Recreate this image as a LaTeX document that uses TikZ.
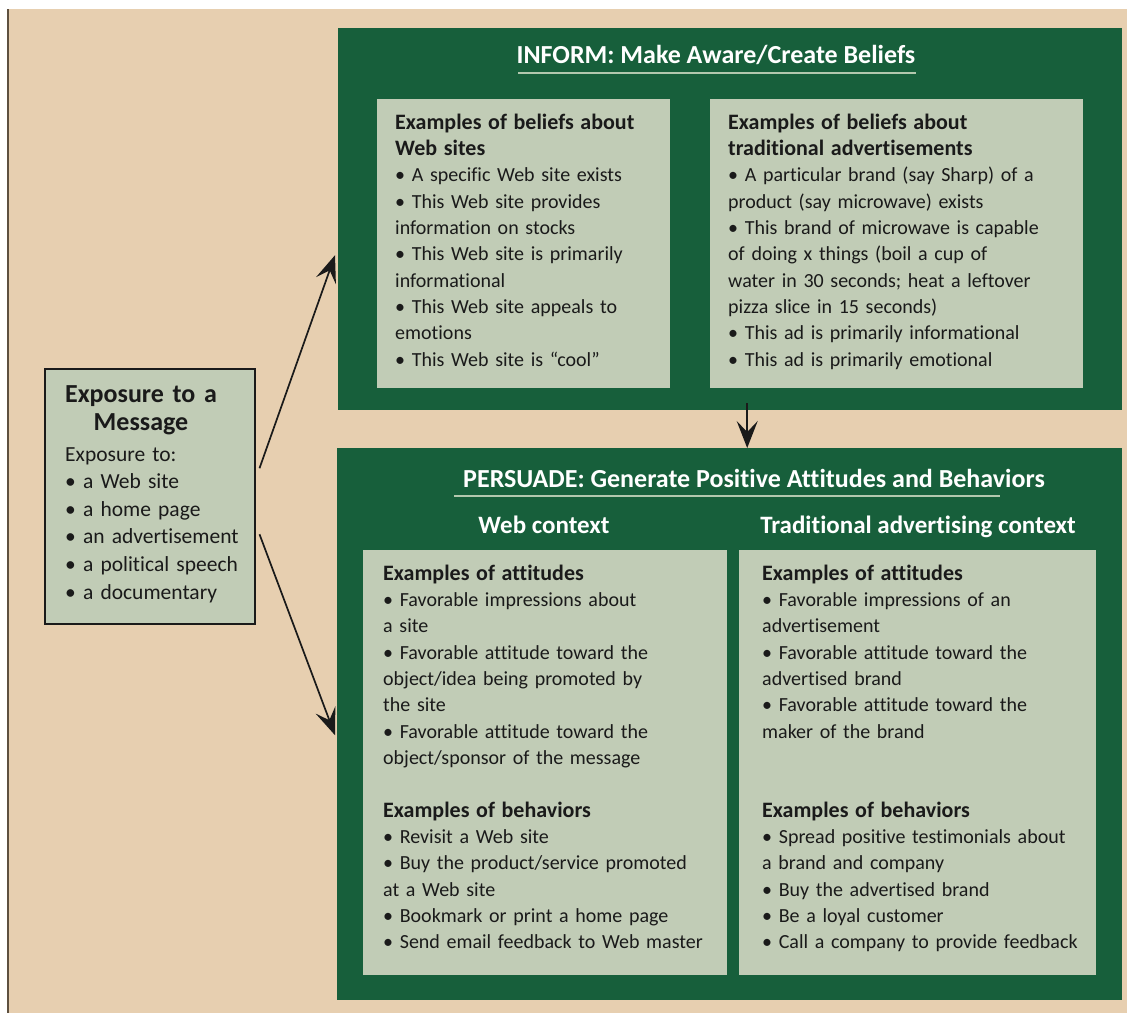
\documentclass[tikz,border=0pt]{standalone}
\usepackage{fontspec}
\setmainfont{Carlito}[Ligatures=NoCommon]
\usetikzlibrary{arrows.meta}
\definecolor{tan}{HTML}{E7CFB0}
\definecolor{dkgreen}{HTML}{175F3B}
\definecolor{ltgreen}{HTML}{C1CCB6}
\definecolor{rulegreen}{HTML}{B3C8AE}
\definecolor{edge}{HTML}{5E5040}
\definecolor{ink}{HTML}{1A1A1A}
\newcommand{\hd}[1]{{\fontsize{22}{26.35}\selectfont\bfseries #1}}
\tikzset{
  panel/.style={fill=dkgreen, draw=none, inner sep=0pt, anchor=north west},
  card/.style={fill=ltgreen, draw=none, inner sep=0pt, anchor=north west},
  body/.style={anchor=base west, inner sep=0pt, align=left, text=ink,
    font=\fontsize{20}{26.35}\selectfont},
  title/.style={anchor=base, inner sep=0pt, text=white,
    font=\fontsize{26}{30}\selectfont\bfseries},
  subtitle/.style={anchor=base, inner sep=0pt, text=white,
    font=\fontsize{25}{30}\selectfont\bfseries},
  arr/.style={draw=ink, line width=1.7pt,
    -{Stealth[length=27pt,width=21pt,inset=11pt]}},
}
\begin{document}
\begin{tikzpicture}[x=1pt,y=-1pt]
\useasboundingbox (0,0) rectangle (1127,1013);
% background
\fill[tan] (8,9) rectangle (1127,1013);
\draw[edge, line width=1.5pt] (8,9) -- (8,1013);

% panels
\node[panel, minimum width=784pt, minimum height=382pt] (inform) at (338,28) {};
\node[panel, minimum width=785pt, minimum height=552pt] (persuade) at (337,448) {};

% inform cards
\node[card, minimum width=293pt, minimum height=289pt] (cardA) at (377,99) {};
\node[card, minimum width=373pt, minimum height=289pt] (cardB) at (710,99) {};
% persuade cards
\node[card, minimum width=364pt, minimum height=425pt] (cardC) at (363,550) {};
\node[card, minimum width=357pt, minimum height=425pt] (cardD) at (739,550) {};

% exposure box
\node[fill=ltgreen, draw=ink, line width=1.5pt, inner sep=0pt, anchor=north west,
      minimum width=210pt, minimum height=255pt] (expo) at (44,368) {};

% titles
\node[title] (tinform) at (716,63) {INFORM: Make Aware/Create Beliefs};
\draw[rulegreen, line width=2pt] (518,73) -- (916,73);
\node[title] (tpersuade) at (754,487) {PERSUADE: Generate Positive Attitudes and Behaviors};
\draw[rulegreen, line width=2pt] (454,496) -- (1000,496);
\node[subtitle] (tweb) at (544,533) {Web context};
\node[subtitle] (ttrad) at (918,533) {Traditional advertising context};

% exposure text
\node[anchor=base, inner sep=0pt, align=center, text width=200pt, text=ink,
      font=\fontsize{26}{28}\selectfont\bfseries] (expoh) at (141,402)
  {Exposure to a\\Message};
\node[body, text width=185pt, font=\fontsize{21.5}{27.6}\selectfont] (expot) at (65,461)
  {Exposure to:\\
   • a Web site\\
   • a home page\\
   • an advertisement\\
   • a political speech\\
   • a documentary};

% inform card texts
\node[body, text width=272pt] (textA) at (395,129)
  {\hd{Examples of beliefs about\\Web sites}\\
   • A specific Web site exists\\
   • This Web site provides\\
   information on stocks\\
   • This Web site is primarily\\
   informational\\
   • This Web site appeals to\\
   emotions\\
   • This Web site is “cool”};
\node[body, text width=352pt] (textB) at (728,129)
  {\hd{Examples of beliefs about\\traditional advertisements}\\
   • A particular brand (say Sharp) of a\\
   product (say microwave) exists\\
   • This brand of microwave is capable\\
   of doing x things (boil a cup of\\
   water in 30 seconds; heat a leftover\\
   pizza slice in 15 seconds)\\
   • This ad is primarily informational\\
   • This ad is primarily emotional};

% persuade card texts
\node[body, text width=342pt] (textC1) at (383,580)
  {\hd{Examples of attitudes}\\
   • Favorable impressions about\\
   a site\\
   • Favorable attitude toward the\\
   object/idea being promoted by\\
   the site\\
   • Favorable attitude toward the\\
   object/sponsor of the message};
\node[body, text width=342pt] (textC2) at (383,817)
  {\hd{Examples of behaviors}\\
   • Revisit a Web site\\
   • Buy the product/service promoted\\
   at a Web site\\
   • Bookmark or print a home page\\
   • Send email feedback to Web master};
\node[body, text width=333pt] (textD1) at (762,580)
  {\hd{Examples of attitudes}\\
   • Favorable impressions of an\\
   advertisement\\
   • Favorable attitude toward the\\
   advertised brand\\
   • Favorable attitude toward the\\
   maker of the brand};
\node[body, text width=333pt] (textD2) at (762,817)
  {\hd{Examples of behaviors}\\
   • Spread positive testimonials about\\
   a brand and company\\
   • Buy the advertised brand\\
   • Be a loyal customer\\
   • Call a company to provide feedback};

% connectors
\draw[arr] ([shift={(4pt,28pt)}]expo.east) -- ([shift={(-3pt,-36pt)}]inform.west);
\draw[arr] ([shift={(4pt,-38pt)}]expo.east) -- ([shift={(-2pt,-11pt)}]persuade.west);
\coordinate (vstart) at ([shift={(17pt,7pt)}]inform.south);
\draw[arr] (vstart) -- (vstart |- persuade.north);
\end{tikzpicture}
\end{document}
